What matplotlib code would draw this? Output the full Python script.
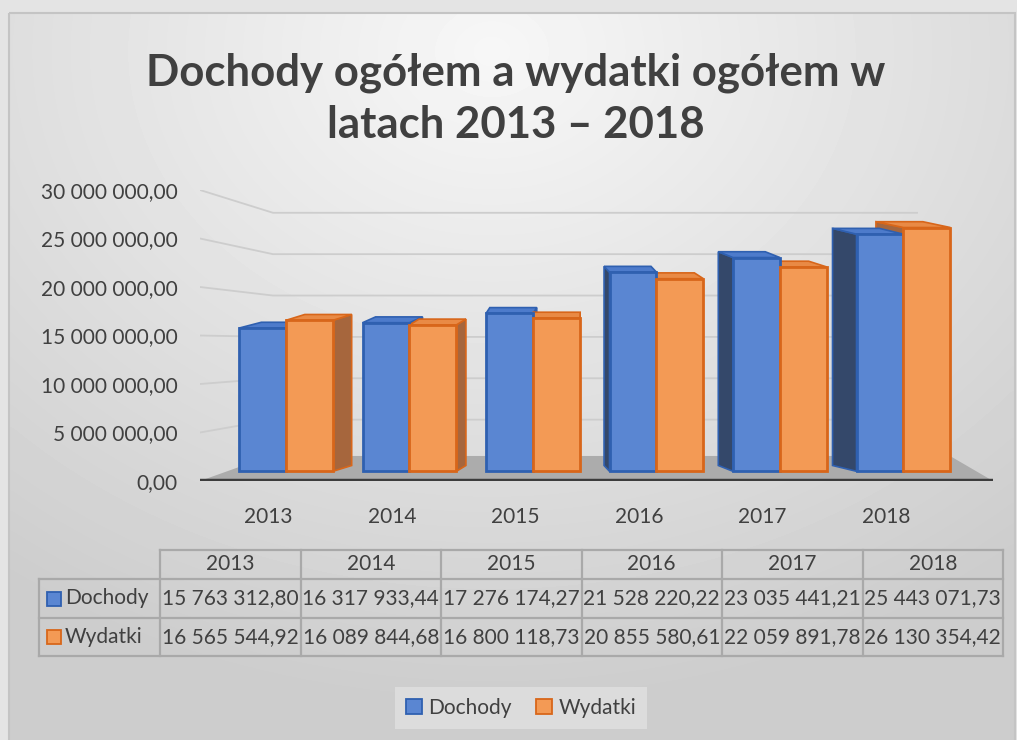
import numpy as np
import matplotlib
matplotlib.use("Agg")
import matplotlib.pyplot as plt
from matplotlib.patches import Polygon, Rectangle, Patch

plt.rcParams['font.family'] = ['Lato', 'DejaVu Sans']

# data
years = ['2013', '2014', '2015', '2016', '2017', '2018']
dochody = [15763312.80, 16317933.44, 17276174.27, 21528220.22, 23035441.21, 25443071.73]
wydatki = [16565544.92, 16089844.68, 16800118.73, 20855580.61, 22059891.78, 26130354.42]
series_names = ['Dochody', 'Wydatki']
y_ticks = [0, 5e6, 10e6, 15e6, 20e6, 25e6, 30e6]

title1 = 'Dochody ogółem a wydatki ogółem w'
title2 = 'latach 2013 – 2018'

txt = '#404040'
blue_face, blue_edge, blue_side, blue_top = '#5a86d2', '#2f60b0', '#34486a', '#4d7bcb'
orange_face, orange_edge, orange_side, orange_top = '#f39a55', '#d8661a', '#a6663d', '#e98a45'
fs = 15

W, H = 1017, 740


def pl(v):
    # polish number format: 15 763 312,80
    return f"{v:,.2f}".replace(",", " ").replace(".", ",")


fig = plt.figure(figsize=(W / 100, H / 100), dpi=100)
fig.patch.set_facecolor('#e4e4e4')

# background (pixel coords)
bg = fig.add_axes([0, 0, 1, 1], zorder=-10)
bg.set_xlim(0, W)
bg.set_ylim(H, 0)
bg.axis('off')
gx, gy = np.meshgrid(np.linspace(0, 1, 200), np.linspace(0, 1, 150))
d = np.sqrt(((gx - 0.48) * 1.0) ** 2 + ((gy - 0.05) * 0.9) ** 2)
shade = np.clip(247 - 52 * d, 205, 247) / 255.0
bg.imshow(shade, cmap='gray', vmin=0, vmax=1, extent=(9, 1015, 740, 13),
          aspect='auto', interpolation='bicubic')
bg.add_patch(Rectangle((9, 13), 1006, 740, fill=False, ec='#c4c4c4', lw=1.5))

# title
fig.text(516 / W, 1 - 73 / H, title1, ha='center', va='center',
         fontsize=31.5, fontweight='bold', color=txt)
fig.text(516 / W, 1 - 125 / H, title2, ha='center', va='center',
         fontsize=31.5, fontweight='bold', color=txt)

# main axes: x in category units, y in millions
ax = fig.add_axes([200 / W, 1 - 481 / H, 793 / W, 291 / H])
ax.patch.set_alpha(0)
for s in ax.spines.values():
    s.set_visible(False)
ax.set_xlim(-0.696, 5.725)
ax.set_ylim(0, 30)

M = 1e6
dch = np.array(dochody) / M
wyd = np.array(wydatki) / M
x = np.arange(len(years))

# gridlines with a bend to the back wall
xl, xb, xr = -0.696, -0.105, 5.11
for v in np.array(y_ticks[1:]) / M:
    vb = 2.06 + 0.853 * v
    ax.plot([xl, xb, xr], [v, vb, vb], color='#cdcdcd', lw=1.3, zorder=1,
            solid_joinstyle='miter')

# floor
ax.add_patch(Polygon([(-0.696, 0), (5.725, 0), (5.377, 2.58), (-0.13, 2.58)],
                     closed=True, fc='#acacac', ec='none', zorder=1.2))
ax.plot([-0.696, 5.725], [0, 0], color='#3c3c3c', lw=3.2, zorder=4,
        solid_capstyle='round')

# 3D bars
bw = 0.38
base = 1.0
dy = 0.6
for vals, off, face, edge, side, top in [
        (dch, -bw / 2, blue_face, blue_edge, blue_side, blue_top),
        (wyd, bw / 2, orange_face, orange_edge, orange_side, orange_top)]:
    for xi, v in zip(x + off, vals):
        cpx = 286 + 123.5 * xi
        dx = (560 - cpx) * 0.075 / 123.5
        x0, x1 = xi - bw / 2, xi + bw / 2
        sx = x1 if dx > 0 else x0
        ax.add_patch(Polygon([(sx, base), (sx, v), (sx + dx, v + dy), (sx + dx, base + dy)],
                             closed=True, fc=side, ec=edge, lw=1.2, zorder=2))
        ax.add_patch(Polygon([(x0, v), (x1, v), (x1 + dx, v + dy), (x0 + dx, v + dy)],
                             closed=True, fc=top, ec=edge, lw=1.2, zorder=2.5))

ax.bar(x - bw / 2, dch - base, bw, bottom=base, color=blue_face,
       edgecolor=blue_edge, lw=2, zorder=3)
ax.bar(x + bw / 2, wyd - base, bw, bottom=base, color=orange_face,
       edgecolor=orange_edge, lw=2, zorder=3)

ax.set_yticks(np.array(y_ticks) / M)
ax.set_yticklabels([pl(v) for v in y_ticks])
ax.set_xticks(x - 0.14)
ax.set_xticklabels(years)
ax.tick_params(axis='y', length=0, pad=16, labelsize=fs, colors=txt)
ax.tick_params(axis='x', length=0, pad=19, labelsize=fs, colors=txt)

# data table (pixel coords)
tl, t0 = 39, 160
cw = (1003 - 160) / 6
rows = [550, 579, 618, 656]
gc = '#a9a9a9'
bg.plot([t0, 1003], [rows[0], rows[0]], color=gc, lw=1.6)
for r in rows[1:]:
    bg.plot([tl, 1003], [r, r], color=gc, lw=1.6)
bg.plot([tl, tl], [rows[1], rows[3]], color=gc, lw=1.6)
for j in range(7):
    xx = t0 + j * cw
    bg.plot([xx, xx], [rows[0], rows[3]], color=gc, lw=1.6)
for j, yr in enumerate(years):
    bg.text(t0 + (j + 0.5) * cw, (rows[0] + rows[1]) / 2, yr, ha='center',
            va='center', fontsize=fs, color=txt)
for k, (name, vals, face, edge) in enumerate([
        (series_names[0], dochody, blue_face, blue_edge),
        (series_names[1], wydatki, orange_face, orange_edge)]):
    yc = (rows[k + 1] + rows[k + 2]) / 2
    bg.add_patch(Rectangle((47, yc - 7), 14, 14, fc=face, ec=edge, lw=1.3))
    bg.text(65, yc, name, ha='left', va='center', fontsize=fs, color=txt)
    for j, v in enumerate(vals):
        bg.text(t0 + (j + 0.5) * cw, yc, pl(v), ha='center', va='center',
                fontsize=fs, color=txt)

# legend
handles = [Patch(fc=blue_face, ec=blue_edge, lw=1.3),
           Patch(fc=orange_face, ec=orange_edge, lw=1.3)]
leg = fig.legend(handles, series_names, loc='center', ncol=2,
                 bbox_to_anchor=(521 / W, 1 - 708 / H), fontsize=fs,
                 handlelength=0.75, handleheight=0.75, handletextpad=0.3,
                 columnspacing=1.2, frameon=True, fancybox=False,
                 borderpad=0.55)
leg.get_frame().set_facecolor('#e0e0e0')
leg.get_frame().set_edgecolor('none')
for t in leg.get_texts():
    t.set_color(txt)

fig.savefig('out.png', dpi=100)
